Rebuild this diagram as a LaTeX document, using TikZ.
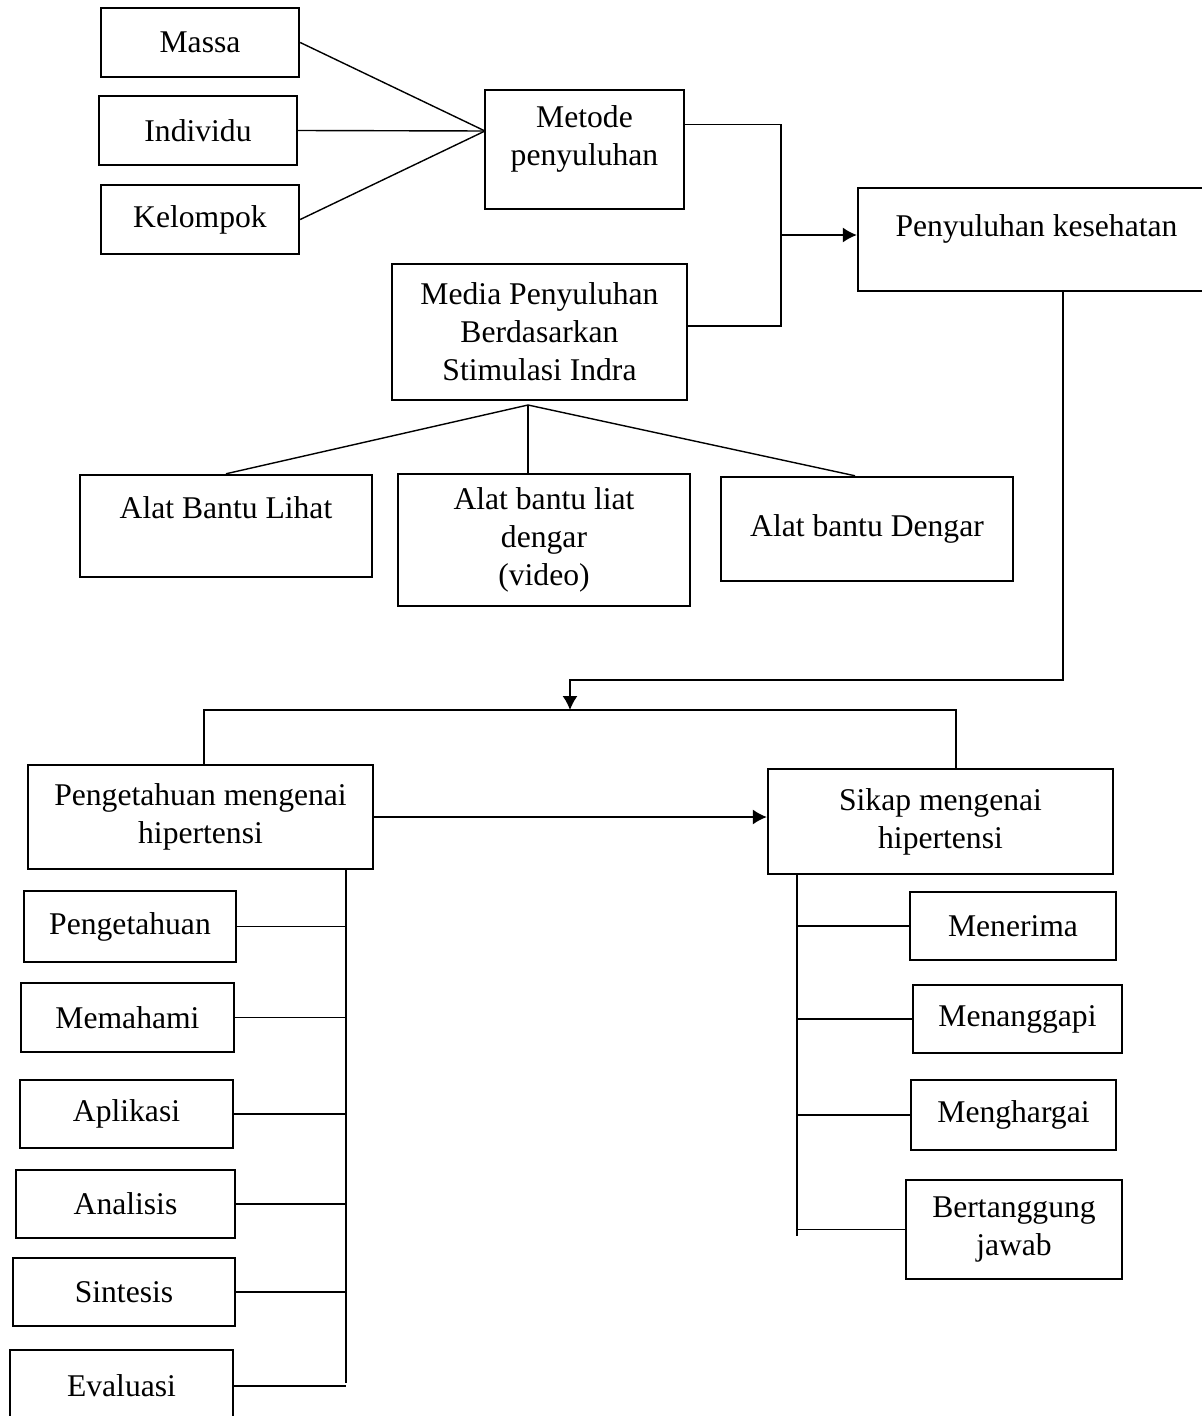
\documentclass[tikz,border=0pt]{standalone}
\usepackage{fontspec}
\setmainfont{Liberation Serif}
\usetikzlibrary{arrows.meta}
\tikzset{
  box/.style={draw, line width=1.4pt, align=center, inner sep=2pt,
    font=\fontsize{18}{21.6}\selectfont},
  link/.style={line width=0.8pt},
  arrow/.style={line width=0.8pt, -{Latex[length=0.28cm,width=0.3cm]}}
}
\begin{document}
\begin{tikzpicture}[x=0.02cm, y=-0.02cm]
\useasboundingbox (0,0) rectangle (1202,1416);
% metode penyuluhan
\node[box, minimum width=3.96cm, minimum height=1.38cm] (massa) at (200,42.5) {Massa};
\node[box, minimum width=3.96cm, minimum height=1.38cm] (individu) at (198,130.5) {Individu};
\node[box, minimum width=3.96cm, minimum height=1.38cm] (kelompok) at (200,219.5) {Kelompok};
\node[box, minimum width=3.98cm, minimum height=2.38cm, text depth=0.54cm] (metode) at (584.5,149.5) {Metode\\penyuluhan};
\coordinate (mjoin) at (485,131);
\draw [link] (massa.east) -- (mjoin);
\draw [link] (individu.east) -- (mjoin);
\draw [link] (kelompok.east) -- (mjoin);
% media penyuluhan
\node[box, minimum width=5.9cm, minimum height=2.72cm] (media) at (539.5,332) {Media Penyuluhan\\Berdasarkan\\Stimulasi Indra};
\node[box, minimum width=5.84cm, minimum height=2.04cm, text depth=0.72cm] (lihat) at (226,526) {Alat Bantu Lihat};
\node[box, minimum width=5.84cm, minimum height=2.64cm] (video) at (544,540) {Alat bantu liat\\dengar\\(video)};
\node[box, minimum width=5.84cm, minimum height=2.08cm] (dengar) at (867,529) {Alat bantu Dengar};
\coordinate (apex) at (528,405);
\draw [link] (apex) -- (lihat.north);
\draw [link] (apex) -- (apex |- video.north);
\draw [link] (apex) -- ([xshift=-0.24cm]dengar.north);
% penyuluhan kesehatan
\node[box, minimum width=7.14cm, minimum height=2.06cm, text depth=0.54cm] (penkes) at (1036.5,239.5) {Penyuluhan kesehatan};
\coordinate (mj) at (781,235);
\draw [link] ([yshift=0.5cm]metode.east) -| (mj) |- ([yshift=0.12cm]media.east);
\draw [arrow] (mj) -- (mj -| penkes.west);
% pengetahuan dan sikap
\node[box, minimum width=6.9cm, minimum height=2.08cm] (peng) at (200.5,817) {Pengetahuan mengenai\\hipertensi};
\node[box, minimum width=6.9cm, minimum height=2.1cm] (sikap) at (940.5,821.5) {Sikap mengenai\\hipertensi};
\coordinate (turn) at (1063,680);
\coordinate (split) at (570,710);
\coordinate (bl) at (204,710);
\coordinate (br) at (956,710);
\draw [arrow] (penkes.south -| turn) -- (turn) -| (split);
\draw [link] (peng.north -| bl) -- (bl) -- (br) -- (sikap.north -| br);
\draw [arrow] (peng.east) -- (peng.east -| sikap.west);
% tingkat pengetahuan
\node[box, minimum width=4.24cm, minimum height=1.42cm] (tahu) at (130,926.5) {Pengetahuan};
\node[box, minimum width=4.26cm, minimum height=1.38cm] (paham) at (127.5,1017.5) {Memahami};
\node[box, minimum width=4.26cm, minimum height=1.36cm] (aplikasi) at (126.5,1114) {Aplikasi};
\node[box, minimum width=4.38cm, minimum height=1.36cm] (analisis) at (125.5,1204) {Analisis};
\node[box, minimum width=4.44cm, minimum height=1.36cm] (sintesis) at (124,1292) {Sintesis};
\node[box, minimum width=4.46cm, minimum height=1.44cm] (evaluasi) at (121.5,1386) {Evaluasi};
\coordinate (lspine) at (346,1383);
\draw [link] (peng.south -| lspine) -- (lspine);
\draw [link] (tahu.east) -- (tahu.east -| lspine);
\draw [link] (paham.east) -- (paham.east -| lspine);
\draw [link] (aplikasi.east) -- (aplikasi.east -| lspine);
\draw [link] (analisis.east) -- (analisis.east -| lspine);
\draw [link] (sintesis.east) -- (sintesis.east -| lspine);
\draw [link] (evaluasi.east) -- (evaluasi.east -| lspine);
% tingkat sikap
\node[box, minimum width=4.12cm, minimum height=1.36cm] (terima) at (1013,926) {Menerima};
\node[box, minimum width=4.18cm, minimum height=1.36cm] (tanggap) at (1017.5,1019) {Menanggapi};
\node[box, minimum width=4.1cm, minimum height=1.4cm] (harga) at (1013.5,1115) {Menghargai};
\node[box, minimum width=4.32cm, minimum height=1.98cm] (jawab) at (1014,1229.5) {Bertanggung\\jawab};
\coordinate (rspine) at (797,1236);
\draw [link] (sikap.south -| rspine) -- (rspine);
\draw [link] (terima.west -| rspine) -- (terima.west);
\draw [link] (tanggap.west -| rspine) -- (tanggap.west);
\draw [link] (harga.west -| rspine) -- (harga.west);
\draw [link] (jawab.west -| rspine) -- (jawab.west);
\end{tikzpicture}
\end{document}
